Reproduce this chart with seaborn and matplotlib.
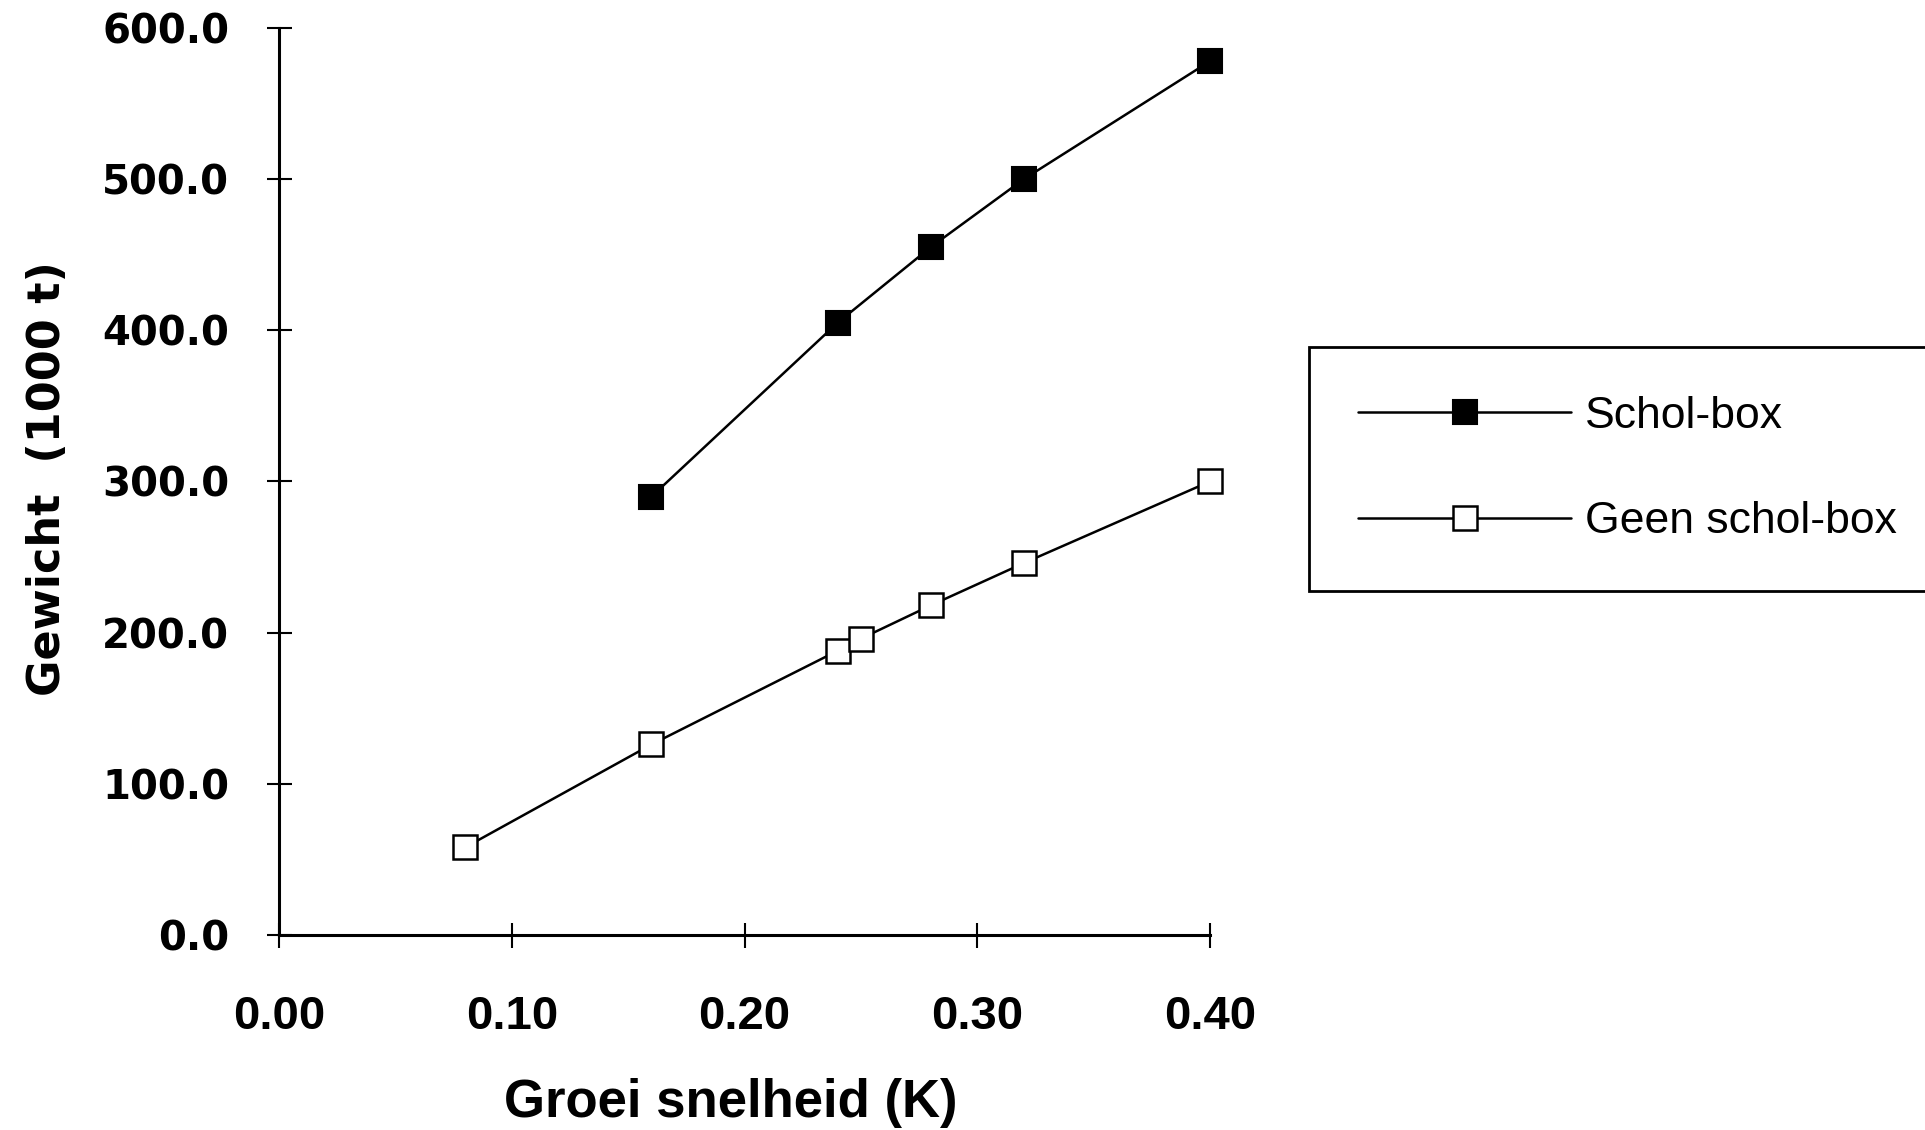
import matplotlib
matplotlib.use("Agg")
import matplotlib.pyplot as plt
import seaborn as sns
import pandas as pd

# Groei snelheid (K) en gewicht (1000 t)
schol_k = [0.16, 0.24, 0.28, 0.32, 0.40]
schol_gewicht = [290, 405, 455, 500, 578]
geen_k = [0.08, 0.16, 0.24, 0.25, 0.28, 0.32, 0.40]
geen_gewicht = [58, 126, 188, 196, 218, 246, 300]

x_ticks = [0.0, 0.1, 0.2, 0.3, 0.4]
y_ticks = [0, 100, 200, 300, 400, 500, 600]

sns.set_style("white")
plt.rcParams['font.family'] = ['Liberation Sans', 'DejaVu Sans']
plt.rcParams['text.color'] = 'black'
plt.rcParams['axes.labelcolor'] = 'black'
plt.rcParams['xtick.color'] = 'black'
plt.rcParams['ytick.color'] = 'black'

schol = pd.DataFrame({'K': schol_k, 'Gewicht': schol_gewicht})
geen = pd.DataFrame({'K': geen_k, 'Gewicht': geen_gewicht})

fig = plt.figure(figsize=(19.25, 11.3), dpi=100)
ax = fig.add_axes([0.145, 0.1726, 0.4836, 0.8027])

sns.lineplot(data=schol, x='K', y='Gewicht', ax=ax, color='black', lw=1.8,
             marker='s', markersize=17, markerfacecolor='black',
             markeredgecolor='black', markeredgewidth=1.5,
             label='Schol-box', clip_on=False)
sns.lineplot(data=geen, x='K', y='Gewicht', ax=ax, color='black', lw=1.8,
             marker='s', markersize=17, markerfacecolor='white',
             markeredgecolor='black', markeredgewidth=1.8,
             label='Geen schol-box', clip_on=False)

ax.set_xlim(0, 0.40)
ax.set_ylim(0, 600)
ax.set_xticks(x_ticks)
ax.set_xticklabels([f'{v:.2f}' for v in x_ticks], fontsize=34, fontweight='bold')
ax.set_yticks(y_ticks)
ax.set_yticklabels([f'{v:.1f}' for v in y_ticks], fontsize=29, fontweight='bold',
                   family='DejaVu Sans')
ax.tick_params(axis='both', direction='inout', length=18, width=1.5,
               color='black', bottom=True, left=True)
ax.tick_params(axis='x', pad=34)
ax.tick_params(axis='y', pad=27)

sns.despine(ax=ax)
for side in ['left', 'bottom']:
    ax.spines[side].set_linewidth(2.2)
    ax.spines[side].set_color('black')

ax.set_xlabel('Groei snelheid (K)', fontsize=38, fontweight='bold')
ax.xaxis.set_label_coords(0.4855, -0.158)
ax.set_ylabel('Gewicht  (1000 t)', fontsize=32, fontweight='bold', family='DejaVu Sans')
ax.yaxis.set_label_coords(-0.226, 0.503)

leg = ax.legend(loc='upper left', bbox_to_anchor=(0.680, 0.693),
                bbox_transform=fig.transFigure, frameon=True, fancybox=False,
                edgecolor='black', framealpha=1, prop={'size': 32},
                handlelength=4.8, handletextpad=0.3, labelspacing=1.45,
                borderpad=1.1, borderaxespad=0)
leg.get_frame().set_linewidth(2)

fig.savefig('out.png', dpi=100, facecolor='white')
